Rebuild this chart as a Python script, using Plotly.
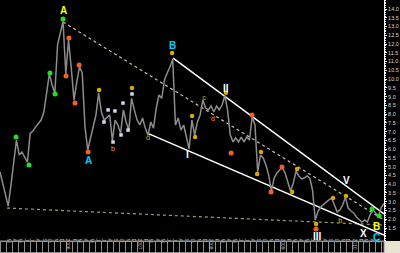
import pandas as pd
import plotly.graph_objects as go

# ---- price series (biweekly samples) ----
start_date = "2005-01-28"
end_date = "2010-06-12"
prices = [4.70, 4.07, 3.55, 2.75, 3.96, 5.38, 6.52, 5.67, 5.84, 5.55,
          5.25, 6.90, 7.04, 7.27, 7.49, 7.66, 8.12, 9.09, 10.30, 9.66,
          9.20, 11.95, 12.69, 13.30, 10.30, 12.23, 10.63, 8.80, 9.83, 10.70,
          10.35, 7.27, 5.95, 6.64, 7.38, 7.95, 9.20, 8.12, 7.66, 7.78,
          7.95, 6.50, 7.66, 7.38, 6.90, 8.24, 7.55, 7.10, 8.90, 8.24,
          7.66, 7.38, 7.78, 7.20, 6.80, 7.55, 7.20, 8.35, 9.09, 8.90,
          9.95, 10.35, 10.69, 11.15, 7.38, 7.78, 7.09, 7.38, 6.64, 6.00,
          7.66, 6.81, 7.55, 7.95, 8.81, 8.35, 8.24, 8.46, 8.12, 8.46,
          8.24, 8.52, 9.05, 8.24, 6.81, 6.41, 6.64, 6.41, 6.69, 6.41,
          6.69, 6.52, 7.85, 7.38, 4.70, 5.67, 5.50, 5.10, 4.53, 3.60,
          4.35, 4.64, 4.81, 4.95, 4.64, 4.13, 3.60, 4.07, 4.75, 4.47,
          4.30, 4.35, 4.47, 4.35, 3.67, 1.95, 2.45, 2.70, 2.87, 2.98,
          3.10, 3.20, 2.81, 2.41, 2.53, 2.81, 3.25, 2.64, 2.47, 2.36,
          2.13, 1.96, 1.84, 1.96, 1.84, 2.24, 2.55, 2.36, 2.15, 2.64, 2.90]
dates = pd.date_range(start_date, periods=len(prices), freq="14D")

# ---- wave markers ----
green_dates = ["2005-04-20", "2005-06-25", "2005-10-10", "2005-11-05", "2005-12-16",
               "2010-04-12", "2010-05-18"]
green_vals = [6.69, 5.10, 10.35, 9.15, 13.43, 2.59, 2.19]

orange_dates = ["2006-01-15", "2005-12-31", "2006-03-08", "2006-02-15", "2006-04-23",
                "2008-08-07", "2008-04-22", "2008-11-12", "2009-01-07", "2009-06-30"]
orange_vals = [12.35, 10.18, 10.80, 8.63, 5.84, 7.95, 5.78, 3.55, 4.98, 1.44]

yellow_dates = ["2006-06-18", "2006-12-03", "2007-06-26", "2007-10-06", "2007-10-21",
                "2008-03-27", "2008-09-02", "2008-09-22", "2009-02-28", "2009-03-25",
                "2009-06-30", "2009-09-25", "2009-11-30"]
yellow_vals = [9.38, 9.49, 11.49, 7.89, 6.69, 9.22, 4.58, 5.84, 3.55, 4.87,
               1.73, 3.21, 3.33]

white_dates = ["2006-08-03", "2006-09-07", "2006-10-18", "2006-07-13", "2006-08-28",
               "2006-10-08", "2006-11-13", "2006-12-03"]
white_vals = [8.24, 8.18, 8.63, 7.55, 6.41, 6.81, 7.09, 9.15]

letter_text = ["b", "d", "c", "d", "b"]
letter_dates = ["2006-08-28", "2007-02-23", "2007-12-06", "2008-01-21", "2009-10-31"]
letter_vals = [6.01, 6.64, 8.92, 7.72, 1.90]

# ---- trend lines ----
lineA_dates = ["2005-12-16", end_date]; lineA_vals = [13.26, 1.96]
lineB_dates = ["2007-07-01", end_date]; lineB_vals = [11.20, 2.30]
lineD_dates = ["2007-02-28", end_date]; lineD_vals = [6.87, 1.10]
base_dates = ["2005-03-05", end_date]; base_vals = [2.64, 1.67]

# ---- wave labels ----
wave_text = ["A", "A", "B", "I", "II", "III", "V", "X", "B", "C"]
wave_dates = ["2005-12-16", "2006-04-23", "2007-06-26", "2007-09-15", "2008-03-27",
              "2009-07-05", "2009-12-05", "2010-02-25", "2010-05-03", "2010-05-03"]
wave_vals = [13.94, 5.33, 11.89, 5.67, 9.49, 0.99, 4.24, 1.21, 1.61, 0.93]
wave_colors = ["#ffff00", "#00ccff", "#00ccff", "#ffffff", "#ffffff", "#ffffff",
               "#ffffff", "#ffffff", "#ffff00", "#00ccff"]

# ---- axis labels ----
y_ticks = [1.5 + 0.5 * k for k in range(26)]
month_letters = ["J", "F", "M", "A", "M", "J", "J", "A", "S", "O", "N", "D"]
month_mid = pd.date_range("2005-02-15", "2010-06-15", freq="MS") + pd.Timedelta(days=14)
month_text = [str(d.year) if d.month == 1 else month_letters[d.month - 1] for d in month_mid]

fig = go.Figure()
fig.add_trace(go.Scatter(x=base_dates, y=base_vals, mode="lines",
                         line=dict(color="#a09878", width=1.2, dash="dot")))
fig.add_trace(go.Scatter(x=lineA_dates, y=lineA_vals, mode="lines",
                         line=dict(color="#c8c0a0", width=1.2, dash="dot")))
fig.add_trace(go.Scatter(x=lineB_dates, y=lineB_vals, mode="lines",
                         line=dict(color="#ffffff", width=1.5)))
fig.add_trace(go.Scatter(x=lineD_dates, y=lineD_vals, mode="lines",
                         line=dict(color="#ffffff", width=1.5)))
fig.add_trace(go.Scatter(x=dates, y=prices, mode="lines",
                         line=dict(color="#8c8c8c", width=1.5)))
fig.add_trace(go.Scatter(x=green_dates, y=green_vals, mode="markers",
                         marker=dict(color="#22dd22", size=5)))
fig.add_trace(go.Scatter(x=orange_dates, y=orange_vals, mode="markers",
                         marker=dict(color="#f0602a", size=5)))
fig.add_trace(go.Scatter(x=yellow_dates, y=yellow_vals, mode="markers",
                         marker=dict(color="#d8aa00", size=4.5)))
fig.add_trace(go.Scatter(x=white_dates, y=white_vals, mode="markers",
                         marker=dict(color="#d0d8e8", size=3.5, symbol="square")))
fig.add_trace(go.Scatter(x=letter_dates, y=letter_vals, mode="text", text=letter_text,
                         textfont=dict(color="#e0b000", size=7, family="Liberation Sans")))

for t, d, v, c in zip(wave_text, wave_dates, wave_vals, wave_colors):
    fig.add_annotation(x=d, y=v, text="<b>" + t + "</b>", showarrow=False,
                       font=dict(color=c, size=10, family="Liberation Sans"))

fig.add_shape(type="rect", xref="paper", yref="paper", x0=1, x1=400 / 384,
              y0=-12 / 241, y1=0, fillcolor="#e8e4d0", line=dict(width=0))
fig.add_shape(type="rect", xref="paper", yref="paper", x0=0, x1=1,
              y0=-11.5 / 241, y1=0, line=dict(color="#909090", width=1))

fig.update_layout(
    width=400, height=253, margin=dict(l=0, r=16, t=0, b=12),
    paper_bgcolor="#000000", plot_bgcolor="#000000", showlegend=False,
    xaxis=dict(type="date", range=[start_date, end_date], showgrid=False, zeroline=False,
               showline=True, linecolor="#909090", tickvals=list(month_mid), ticktext=month_text,
               ticks="", ticklabelstandoff=-7,
               tickfont=dict(size=5, color="#c8c8c8", family="Liberation Sans"),
               minor=dict(dtick="M1", ticks="outside", ticklen=11, tickcolor="#909090")),
    yaxis=dict(side="right", range=[0.758, 14.514], showgrid=False, zeroline=False,
               showline=True, linecolor="#ffffff", tickvals=y_ticks, tickformat=".1f",
               ticks="outside", ticklen=2, tickcolor="#ffffff",
               tickfont=dict(size=5.5, color="#d8d8d8", family="Liberation Sans"),
               minor=dict(dtick=0.1, ticks="outside", ticklen=1, tickcolor="#ffffff")),
)
fig.write_html("out.html")
